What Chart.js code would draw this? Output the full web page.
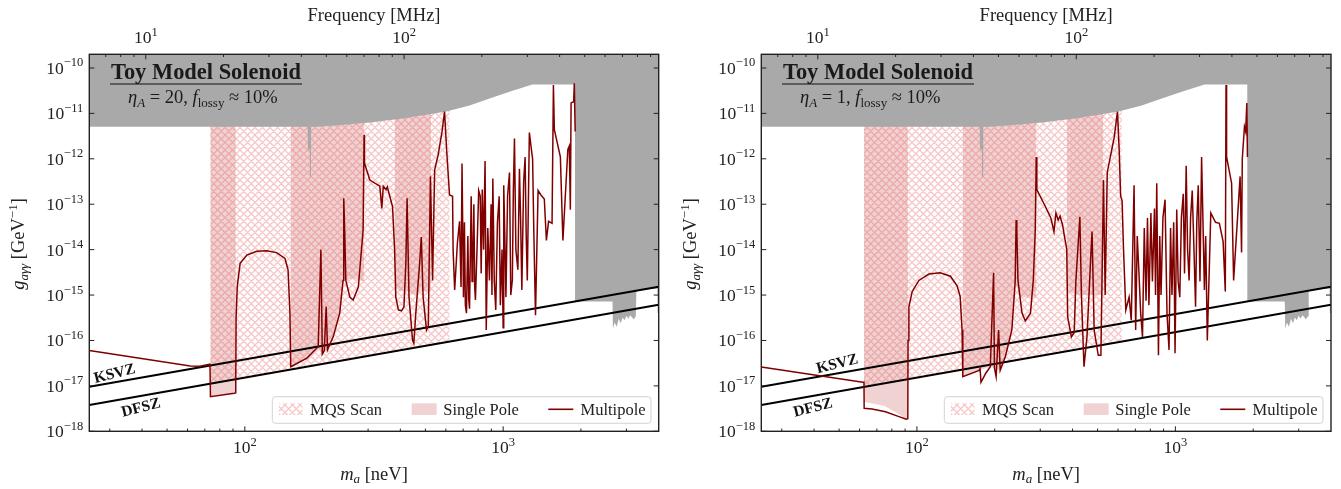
<!DOCTYPE html>
<html>
<head>
<meta charset="utf-8">
<script src="https://cdn.jsdelivr.net/npm/chart.js@4.4.1/dist/chart.umd.min.js"></script>
<style>
  html, body { margin: 0; padding: 0; background: #fff; }
  #wrap { position: relative; width: 1341px; height: 489px; }
  canvas { position: absolute; top: 0; }
</style>
</head>
<body>
<div id="wrap">
  <canvas id="leftPanel" width="672" height="489" style="left:0"></canvas>
  <canvas id="rightPanel" width="669" height="489" style="left:672px"></canvas>
</div>
<script>
// ---- axes ----
const MHZ_PER_NEV = 0.241799;
const massRange = [25, 4000];
const gRange = [1e-18, 2e-10];
const massMajor = [100, 1000];
const massMajorExp = [2, 3];
const massMinor = [30, 40, 50, 60, 70, 80, 90, 200, 300, 400, 500, 600, 700, 800, 900, 2000, 3000];
const freqMajor = [10, 100];
const freqMajorExp = [1, 2];
const freqMinor = [7, 8, 9, 20, 30, 40, 50, 60, 70, 80, 90, 200, 300, 400, 500, 600, 700, 800, 900];
const gMajor = [1e-18, 1e-17, 1e-16, 1e-15, 1e-14, 1e-13, 1e-12, 1e-11, 1e-10];
const gMajorExp = [-18, -17, -16, -15, -14, -13, -12, -11, -10];

// ---- benchmark lines [mass neV, g GeV^-1] ----
const ksvz = [[25, 9.6e-18], [4000, 1.53e-15]];
const dfsz = [[25, 3.8e-18], [4000, 6.1e-16]];

// ---- existing limits (grey), lower edge ----
const greyEdge = [[25, 5.1e-12], [175, 5.1e-12], [175.3, 1.6e-12], [178.4, 1.6e-12], [178.7, 4e-13], [180.3, 4e-13],
  [180.6, 5.1e-12], [190, 5.1e-12], [230, 5.5e-12], [304.7, 6.3e-12], [409, 7.7e-12], [602, 1.1e-11], [741, 1.5e-11],
  [858, 2.0e-11], [1058, 3.0e-11], [1297, 4.3e-11], [1897, 4.3e-11], [1898, 7.2e-16], [2650, 7.2e-16], [2660, 1.8e-16],
  [2700, 2.5e-16], [2750, 2e-16], [2800, 3e-16], [2850, 2.4e-16], [2900, 3.2e-16], [2950, 2.8e-16], [3000, 3.5e-16],
  [3050, 3e-16], [3100, 3.6e-16], [3150, 3.3e-16], [3200, 2.9e-16], [3260, 3.4e-16], [3280, 1.3e-15], [3950, 1.4e-15],
  [3960, 4e-16], [4000, 4e-16]];

// ---- left panel (eta_A = 20) ----
const mqsL = [[73.5, 1.1e-17], [621, 9.3e-17]];
const singlePoleL = [
  [[73.5, 5.8e-18], [91, 6.9e-18], [92.3, 7.0e-18]],
  [[150.5, 2.65e-17], [174, 4.1e-17], [192.3, 7.3e-17], [199, 5e-17], [209, 6.2e-17], [220, 1.2e-16], [233, 4e-16],
   [240, 2.1e-15], [250, 2.2e-15], [262, 2.3e-15], [280, 2.1e-15], [290, 2e-15]],
  [[380, 1.5e-15], [400, 1.2e-15], [420, 1.3e-15], [440, 1.1e-15], [460, 1e-15], [480, 1.3e-15], [500, 1.2e-15], [527, 1.2e-15]]
];
const multipoleL = [
  [25, 6.0e-17], [61.5, 2.75e-17], [67, 2.7e-17], [73.3, 3.0e-17], [73.6, 5.8e-18], [91, 6.9e-18], [92.2, 7.0e-18],
  [92.5, 3e-16], [93.5, 1.6e-15], [95.9, 5.0e-15], [101.8, 7.6e-15], [111.2, 9.2e-15], [121.6, 9.5e-15], [132.8, 8.6e-15],
  [143, 6.4e-15], [147, 3.6e-15], [149.5, 4.0e-16], [150.5, 2.65e-17], [174, 4.1e-17], [192.3, 7.3e-17], [197, 1.0e-14],
  [199.5, 5e-17], [203, 6e-17], [206.5, 5.6e-16], [209, 6.2e-17], [219.8, 1.2e-16], [233, 4e-16], [240, 2.1e-15],
  [241.5, 1.35e-13], [243.5, 2.7e-14], [246, 2.1e-15], [255, 9e-16], [262.6, 7.8e-16], [275, 1.5e-15], [287, 2.7e-14],
  [289.5, 3.4e-12], [290.5, 8e-13], [304.7, 3.4e-13], [333, 2.5e-13], [339, 8.1e-14], [343.5, 2.5e-13], [352, 2.1e-13],
  [356, 2.4e-13], [364, 1.5e-13], [373, 8.9e-14], [380, 1e-14], [384, 9.1e-16], [393, 4.7e-16], [404, 4.5e-16],
  [413, 5.5e-16], [420, 5e-15], [424.7, 1.35e-13], [432, 9e-16], [446, 1e-16], [451, 8.7e-17], [459, 4e-16], [475, 5e-15],
  [482, 1.9e-14], [490, 9e-16], [505, 1.7e-16], [513, 2.1e-16], [523, 4.1e-13], [533, 2.1e-15], [543, 5.7e-13],
  [560, 1.2e-12], [580, 4e-12], [593, 1.1e-11], [604, 1.6e-12], [620, 1.6e-13], [637, 1.5e-13], [640, 1e-14],
  [649, 1.3e-15], [665, 1.4e-14], [678, 4.2e-14], [687, 1.5e-15], [693, 7.9e-13], [702, 9e-16], [708, 4e-14], [714, 6e-16],
  [721, 4e-16], [730, 2e-14], [736, 8e-16], [741, 5e-16], [752, 1.5e-13], [758, 2e-15], [763, 5e-15], [770, 1e-13],
  [776, 1.5e-15], [781, 7.8e-16], [792, 1e-14], [804, 2e-13], [815, 1.5e-13], [822, 3e-15], [830, 2.1e-13], [840, 1e-14],
  [851, 8.9e-13], [860, 1.7e-16], [872, 3e-14], [885, 2.1e-15], [898, 1e-13], [905, 1e-15], [912, 3.7e-13], [924, 2e-15],
  [936, 4.7e-16], [950, 3.8e-14], [965, 1.5e-13], [975, 6e-16], [990, 1e-14], [1000, 1.9e-16], [1005, 2.6e-13],
  [1015, 2e-14], [1025, 9e-16], [1040, 1.5e-13], [1058, 5e-13], [1070, 1e-15], [1085, 2.1e-15], [1095, 2e-13],
  [1106, 2.8e-12], [1120, 1e-14], [1140, 3.6e-15], [1156, 6e-13], [1168, 5e-14], [1181, 1.3e-15], [1200, 3e-13],
  [1216, 1.1e-12], [1228, 2e-14], [1240, 2.1e-15], [1263, 3.8e-12], [1280, 2e-12], [1300, 1e-12], [1315, 2e-14],
  [1334, 3.6e-16], [1365, 2e-13], [1400, 1.6e-13], [1443, 1.3e-13], [1470, 1.6e-14], [1499, 4.2e-14], [1546, 3.8e-14],
  [1565, 4.2e-11], [1578, 4.4e-12], [1665, 1.1e-12], [1703, 1.6e-14], [1780, 1.6e-12], [1803, 1.9e-12], [1820, 7.6e-14],
  [1832, 1.7e-11], [1875, 1.8e-11], [1885, 4.6e-11], [1900, 4e-12]
];

// ---- right panel (eta_A = 1) ----
const mqsR = [[62.4, 9.5e-18], [621, 9.3e-17]];
const singlePoleR = [
  [[62.4, 4.5e-18], [75, 3.6e-18], [85, 2.4e-18], [90.9, 1.85e-18], [92.3, 1.85e-18]],
  [[150.5, 1.6e-17], [174, 2.2e-17], [192.3, 2.65e-17], [210, 2.2e-17], [220, 4.4e-17], [233, 1.7e-16], [240, 2e-15],
   [250, 9e-16], [265, 9e-16], [280, 9e-16], [290, 9e-16]],
  [[380, 1.2e-15], [420, 1e-15], [460, 1e-15], [500, 1e-15], [527, 1e-15]]
];
const multipoleR = [
  [25, 2.6e-17], [61.8, 1.2e-17], [62.4, 1.2e-17], [62.5, 3.2e-18], [67, 3.1e-18], [75.6, 2.7e-18], [85.2, 2.1e-18],
  [90.9, 1.84e-18], [92.2, 1.9e-18], [92.4, 1e-16], [93.1, 5.5e-16], [95.9, 1.2e-15], [101.8, 2.1e-15], [111.2, 2.9e-15],
  [123, 3.1e-15], [134.8, 2.6e-15], [143, 1.6e-15], [147, 9.3e-16], [149.5, 1.7e-16], [150.5, 1.6e-17], [174, 2.2e-17],
  [175.5, 2.4e-17], [177, 1.2e-17], [184.7, 1.9e-17], [192.3, 2.65e-17], [198, 3.1e-15], [199.5, 2.5e-17], [202.5, 1.6e-17],
  [207, 1.7e-16], [210, 2.2e-17], [219.8, 4.4e-17], [233, 1.7e-16], [240, 2e-15], [242, 4.5e-14], [243.5, 2.7e-14],
  [246, 2.1e-15], [255, 4e-16], [262.6, 2.7e-16], [275, 4e-16], [282, 2.1e-15], [287, 2.7e-14], [289.5, 1.1e-12],
  [291, 2.1e-13], [314, 8.9e-14], [330, 4.9e-14], [339, 2.5e-14], [345, 6.4e-14], [352, 4.5e-14], [358, 5.5e-14],
  [366, 3.5e-14], [372, 2e-14], [380, 1e-14], [383, 3.3e-16], [396, 1.2e-16], [406, 1.5e-16], [412, 2e-15], [427, 5.3e-14],
  [433, 1e-15], [443, 2.65e-17], [455, 1.2e-16], [472, 1e-14], [476, 2.5e-14], [485, 1.7e-16], [503, 4.7e-17],
  [515, 4.7e-17], [527, 3.4e-13], [535, 1e-15], [545, 5e-13], [580, 3e-12], [597, 1.1e-11], [606, 1.6e-12], [614, 1.5e-13],
  [622, 1.2e-13], [630, 1e-14], [643, 4.7e-16], [662, 9e-16], [675, 2.8e-16], [692, 2.6e-13], [702, 1.7e-16], [712, 2e-14],
  [722, 3.6e-15], [734, 4e-16], [746, 1.2e-16], [758, 3e-14], [770, 7.5e-16], [780, 5e-14], [790, 6e-16], [804, 6.4e-14],
  [815, 2e-15], [830, 8e-14], [838, 1e-15], [847, 2.9e-13], [860, 4.7e-17], [870, 2e-14], [880, 1e-15], [895, 5e-14],
  [912, 1.26e-13], [928, 4e-16], [945, 6.2e-17], [958, 3e-14], [970, 1e-15], [985, 4e-14], [997, 5.2e-17], [1012, 7.6e-14],
  [1025, 2e-15], [1040, 9e-16], [1055, 5e-14], [1073, 1.7e-13], [1085, 3e-15], [1101, 7e-13], [1115, 1e-14], [1130, 2.1e-15],
  [1145, 5e-14], [1162, 2e-13], [1180, 1e-14], [1197, 5.5e-16], [1210, 4e-14], [1226, 2.6e-13], [1245, 2e-15],
  [1263, 1.1e-12], [1280, 3e-14], [1295, 1.3e-15], [1310, 2e-14], [1329, 1e-16], [1371, 6.4e-14], [1430, 4e-14],
  [1480, 3.8e-14], [1530, 1.5e-14], [1560, 1.2e-15], [1570, 4.2e-11], [1578, 1.1e-12], [1650, 2.9e-13], [1680, 2.1e-15],
  [1780, 4.1e-13], [1803, 8.6e-15], [1815, 1e-12], [1850, 5.1e-12], [1870, 4e-12], [1890, 1.7e-11], [1900, 1.1e-12]
];

// ---- styling ----
const SERIF = "'Liberation Serif', 'DejaVu Serif', serif";
const DARK_RED = '#800000';
const GREY = '#a9a9a9';
const SP_FILL = 'rgba(205, 92, 92, 0.28)';
const HATCH_LINE = '#f7c6c6';

function font(size, style) {
  return (style || '') + ' ' + size + 'px ' + SERIF;
}

function makeHatch() {
  const s = 7.5;
  const n = 15; // two cells per tile
  const c = document.createElement('canvas');
  c.width = n; c.height = n;
  const x = c.getContext('2d');
  x.strokeStyle = HATCH_LINE;
  x.lineWidth = 1.3;
  x.beginPath();
  for (let k = -2; k <= 2; k++) {
    x.moveTo(k * s - 2, -2); x.lineTo(k * s + n + 2, n + 2);
    x.moveTo(k * s - 2, n + 2); x.lineTo(k * s + n + 2, -2);
  }
  x.stroke();
  return c;
}

function pts(pairs) {
  return pairs.map(p => ({ x: p[0], y: p[1] }));
}

// text made of pieces (sub/superscripts)
function rich(ctx, parts, x, y, align) {
  let w = 0;
  parts.forEach(p => { ctx.font = p.f; w += ctx.measureText(p.t).width; });
  let cx = align === 'center' ? x - w / 2 : align === 'right' ? x - w : x;
  ctx.textAlign = 'left';
  parts.forEach(p => {
    ctx.font = p.f;
    ctx.fillText(p.t, cx, y + (p.dy || 0));
    cx += ctx.measureText(p.t).width;
  });
}

function pow10(e) {
  const s = e < 0 ? '\u2212' + (-e) : String(e);
  return [{ t: '10', f: font(17.5) }, { t: s, f: font(12.5), dy: -7.5 }];
}

function axesPlugin(cfg) {
  return {
    id: 'axesDeco',
    afterDraw(chart) {
      const ctx = chart.ctx;
      const a = chart.chartArea;
      const xs = chart.scales.x, ys = chart.scales.y, xt = chart.scales.xTop;
      ctx.save();

      // KSVZ / DFSZ labels
      ctx.fillStyle = '#111';
      ctx.font = font(15.5, 'bold');
      ctx.textAlign = 'center';
      ctx.textBaseline = 'middle';
      [[cfg.ksvzLabel, 'KSVZ'], [cfg.dfszLabel, 'DFSZ']].forEach(([p, t]) => {
        ctx.save();
        ctx.translate(p[0], p[1]);
        ctx.rotate(-14 * Math.PI / 180);
        ctx.fillText(t, 0, 0);
        ctx.restore();
      });
      ctx.textBaseline = 'alphabetic';

      // frame
      ctx.strokeStyle = '#222';
      ctx.lineWidth = 1.4;
      ctx.strokeRect(a.left, a.top, a.right - a.left, a.bottom - a.top);

      // ticks (inward)
      ctx.lineWidth = 1;
      ctx.beginPath();
      massMajor.forEach(m => { const px = xs.getPixelForValue(m); ctx.moveTo(px, a.bottom); ctx.lineTo(px, a.bottom - 5); });
      massMinor.forEach(m => { const px = xs.getPixelForValue(m); ctx.moveTo(px, a.bottom); ctx.lineTo(px, a.bottom - 2.7); });
      freqMajor.forEach(f => { const px = xt.getPixelForValue(f); ctx.moveTo(px, a.top); ctx.lineTo(px, a.top + 5); });
      freqMinor.forEach(f => { const px = xt.getPixelForValue(f); ctx.moveTo(px, a.top); ctx.lineTo(px, a.top + 2.7); });
      gMajor.forEach(g => {
        const py = ys.getPixelForValue(g);
        ctx.moveTo(a.left, py); ctx.lineTo(a.left + 5, py);
        ctx.moveTo(a.right, py); ctx.lineTo(a.right - 5, py);
      });
      ctx.stroke();

      // tick labels
      ctx.fillStyle = '#222';
      massMajor.forEach((m, i) => rich(ctx, pow10(massMajorExp[i]), xs.getPixelForValue(m), a.bottom + 22, 'center'));
      freqMajor.forEach((f, i) => rich(ctx, pow10(freqMajorExp[i]), xt.getPixelForValue(f), a.top - 11, 'center'));
      gMajor.forEach((g, i) => rich(ctx, pow10(gMajorExp[i]), a.left - 6, ys.getPixelForValue(g) + 6, 'right'));

      // axis titles
      const cxp = (a.left + a.right) / 2;
      rich(ctx, [{ t: 'Frequency [MHz]', f: font(18.5) }], cxp, 21, 'center');
      rich(ctx, [{ t: 'm', f: font(18.5, 'italic') }, { t: 'a', f: font(13, 'italic'), dy: 3 }, { t: ' [neV]', f: font(18.5) }], cxp, 480, 'center');
      ctx.save();
      ctx.translate(24, 244);
      ctx.rotate(-Math.PI / 2);
      rich(ctx, [{ t: 'g', f: font(18.5, 'italic') }, { t: 'a\u03b3\u03b3', f: font(13, 'italic'), dy: 4 },
        { t: ' [GeV', f: font(18.5) }, { t: '\u22121', f: font(13), dy: -7.5 }, { t: ']', f: font(18.5) }], 0, 0, 'center');
      ctx.restore();

      // title box
      ctx.fillStyle = '#1a1a1a';
      ctx.font = font(20, 'bold');
      let w = ctx.measureText('Toy Model Solenoid').width;
      const fs = 20 * 190 / w;
      ctx.font = font(fs, 'bold');
      ctx.textAlign = 'left';
      ctx.fillText('Toy Model Solenoid', 111, 78.5);
      ctx.strokeStyle = '#111';
      ctx.lineWidth = 1.2;
      ctx.beginPath(); ctx.moveTo(110, 84); ctx.lineTo(302, 84); ctx.stroke();
      rich(ctx, [
        { t: '\u03b7', f: font(18.5, 'italic') }, { t: 'A', f: font(13, 'italic'), dy: 4 },
        { t: ' = ' + cfg.eta + ', ', f: font(18.5) },
        { t: 'f', f: font(18.5, 'italic') }, { t: 'lossy', f: font(13), dy: 4 },
        { t: ' \u2248 10%', f: font(18.5) }], 128, 102.5, 'left');

      // legend
      const L = { x0: 272.3, y0: 396.7, x1: 651, y1: 423.3 };
      ctx.fillStyle = 'rgba(255,255,255,0.85)';
      ctx.strokeStyle = '#d2d2d2';
      ctx.lineWidth = 1;
      ctx.beginPath();
      ctx.roundRect(L.x0, L.y0, L.x1 - L.x0, L.y1 - L.y0, 3);
      ctx.fill(); ctx.stroke();
      ctx.fillStyle = ctx.createPattern(cfg.hatch, 'repeat');
      ctx.fillRect(279, 403.3, 23.3, 11.7);
      ctx.fillStyle = SP_FILL;
      ctx.fillRect(411.7, 403.3, 25, 11.7);
      ctx.strokeStyle = DARK_RED;
      ctx.lineWidth = 1.6;
      ctx.beginPath(); ctx.moveTo(548.3, 409.3); ctx.lineTo(573.3, 409.3); ctx.stroke();
      ctx.fillStyle = '#222';
      ctx.font = font(16.5);
      ctx.fillText('MQS Scan', 310, 415);
      ctx.fillText('Single Pole', 443.3, 415);
      ctx.fillText('Multipole', 580.5, 415);
      ctx.restore();
    }
  };
}

function buildPanel(id, cfg, padRight) {
  const hatch = makeHatch();
  cfg.hatch = hatch;
  const hatchPattern = document.getElementById(id).getContext('2d').createPattern(hatch, 'repeat');
  const area = (pairs, bg, order) => ({
    data: pts(pairs), fill: 'end', backgroundColor: bg, borderWidth: 0,
    pointRadius: 0, tension: 0, order: order
  });
  const line = (pairs, color, w, order) => ({
    data: pts(pairs), fill: false, borderColor: color, borderWidth: w,
    pointRadius: 0, tension: 0, order: order
  });
  const datasets = [
    line(cfg.multipole, DARK_RED, 1.5, 0),
    line(ksvz, '#000', 2, 1),
    line(dfsz, '#000', 2, 1),
    area(greyEdge, GREY, 2),
    ...cfg.singlePole.map(sp => area(sp, SP_FILL, 3)),
    area(cfg.mqs, hatchPattern, 4)
  ];
  return new Chart(document.getElementById(id), {
    type: 'line',
    data: { datasets },
    options: {
      responsive: false,
      animation: false,
      devicePixelRatio: 1,
      layout: { padding: { left: 89.3, top: 54.3, right: padRight, bottom: 57.7 } },
      plugins: { legend: { display: false }, tooltip: { enabled: false } },
      scales: {
        x: { type: 'logarithmic', min: massRange[0], max: massRange[1], display: false },
        xTop: { type: 'logarithmic', axis: 'x', position: 'top', min: massRange[0] * MHZ_PER_NEV, max: massRange[1] * MHZ_PER_NEV, display: false },
        y: { type: 'logarithmic', min: gRange[0], max: gRange[1], display: false }
      }
    },
    plugins: [axesPlugin(cfg)]
  });
}

buildPanel('leftPanel', {
  eta: '20', multipole: multipoleL, mqs: mqsL, singlePole: singlePoleL,
  ksvzLabel: [114.7, 374], dfszLabel: [141, 408]
}, 13.3);

buildPanel('rightPanel', {
  eta: '1', multipole: multipoleR, mqs: mqsR, singlePole: singlePoleR,
  ksvzLabel: [165.3, 364.2], dfszLabel: [141, 408]
}, 10);
</script>
</body>
</html>
